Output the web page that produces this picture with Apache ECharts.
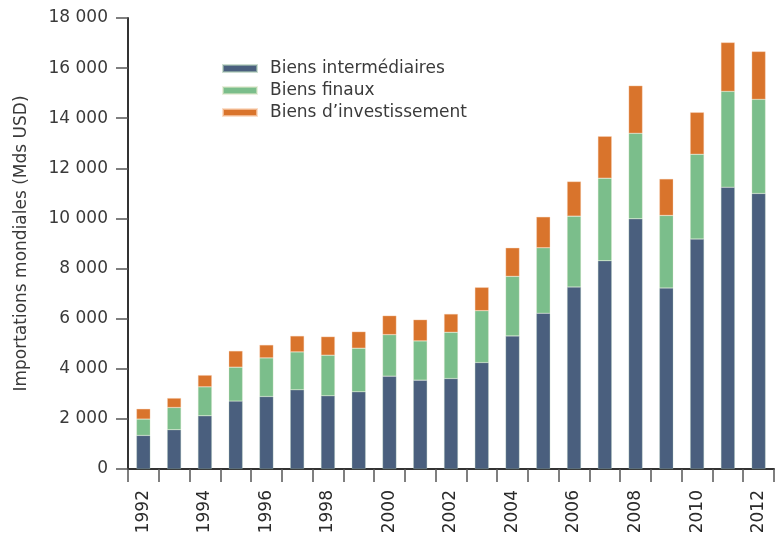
<!DOCTYPE html>
<html><head><meta charset="utf-8">
<script src="https://cdn.jsdelivr.net/npm/echarts@6/dist/echarts.min.js"></script>
<style>html,body{margin:0;padding:0;background:#fff}#c{width:782px;height:542px}</style>
</head><body><div id="c"></div>
<script>
const years = ['1992','1993','1994','1995','1996','1997','1998','1999','2000','2001','2002','2003','2004','2005','2006','2007','2008','2009','2010','2011','2012'];
const biensIntermediaires = [1339,1566,2124,2709,2892,3159,2920,3080,3705,3546,3610,4247,5311,6215,7263,8311,9984,7223,9175,11247,10996];
const biensFinaux = [653,888,1155,1355,1542,1514,1622,1741,1658,1566,1848,2072,2378,2614,2829,3295,3414,2897,3387,3825,3757];
const biensInvestissement = [410,375,466,649,518,638,741,661,757,848,729,932,1140,1235,1382,1673,1901,1458,1673,1952,1912];
const yTicks = [0,2000,4000,6000,8000,10000,12000,14000,16000,18000];

const FONT = 'DejaVu Sans';
const TXT = '#3a3a3a';
const chart = echarts.init(document.getElementById('c'));
chart.setOption({
  animation: false,
  textStyle: {fontFamily: FONT},
  grid: {left: 128, right: 8, top: 18, bottom: 73, containLabel: false},
  legend: {
    orient: 'vertical', left: 222, top: 60, padding: 0, itemWidth: 34, itemHeight: 7, itemGap: 5,
    icon: 'rect',
    textStyle: {fontFamily: FONT, fontSize: 17, color: TXT, padding: [0,0,0,8]},
    data: ['Biens intermédiaires','Biens finaux','Biens d’investissement']
  },
  xAxis: {
    type: 'category', data: years, boundaryGap: true,
    axisLine: {lineStyle: {color: '#333', width: 2}},
    axisTick: {show: true, interval: 0, length: 13, lineStyle: {color: '#555', width: 1.5}},
    axisLabel: {interval: 1, rotate: 90, margin: 21, fontFamily: FONT, fontSize: 17, color: '#2a2a2a'}
  },
  yAxis: {
    type: 'value', min: yTicks[0], max: yTicks[yTicks.length-1], interval: 2000,
    name: 'Importations mondiales (Mds USD)', nameLocation: 'middle', nameGap: 98,
    nameTextStyle: {fontFamily: FONT, fontSize: 17, color: TXT},
    axisLine: {show: true, lineStyle: {color: '#333', width: 2}},
    axisTick: {show: true, length: 12, lineStyle: {color: '#555', width: 1.5}},
    splitLine: {show: false},
    axisLabel: {margin: 20, fontFamily: FONT, fontSize: 17, color: TXT,
      formatter: v => v === 0 ? '0' : String(v).replace(/\B(?=(\d{3})+(?!\d))/g, ' ')}
  },
  series: [
    {name: 'Biens intermédiaires', type: 'bar', stack: 's', data: biensIntermediaires, barWidth: '45%',
     itemStyle: {color: '#4a5f7e', borderColor: 'rgba(170,200,180,0.6)', borderWidth: 0.5}},
    {name: 'Biens finaux', type: 'bar', stack: 's', data: biensFinaux, barWidth: '45%',
     itemStyle: {color: '#7bbe8b', borderColor: 'rgba(220,230,200,0.6)', borderWidth: 0.5}},
    {name: 'Biens d’investissement', type: 'bar', stack: 's', data: biensInvestissement, barWidth: '45%',
     itemStyle: {color: '#d9742c', borderColor: 'rgba(250,210,180,0.7)', borderWidth: 0.5}}
  ]
});
</script></body></html>
